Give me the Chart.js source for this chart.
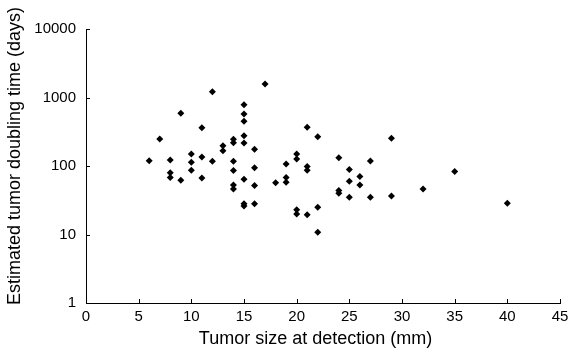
<!DOCTYPE html>
<html>
<head>
<meta charset="utf-8">
<script src="https://cdn.jsdelivr.net/npm/chart.js@4/dist/chart.umd.min.js"></script>
<style>
  body { margin: 0; background: #fff; }
  #wrap { width: 569px; height: 356px; }
</style>
</head>
<body>
<div id="wrap"><canvas id="scatter" width="569" height="356"></canvas></div>
<script>
// tumor size (mm) and doubling time (days)
var sizes = [6, 7, 8, 8, 8, 9, 9, 10, 10, 10, 11, 11, 11, 12, 12, 13, 13,
  14, 14, 14, 14, 14, 14, 15, 15, 15, 15, 15, 15, 15, 15, 16, 16, 16, 16,
  17, 18, 19, 19, 19, 20, 20, 20, 20, 21, 21, 21, 21, 22, 22, 22,
  24, 24, 24, 25, 25, 25, 26, 26, 27, 27, 29, 29, 32, 35, 40];
var doubling = [119, 248, 122, 80, 68, 588, 62, 150, 113, 87, 362, 135, 67, 1216, 117, 198, 167,
  245, 219, 117, 86, 53, 46, 785, 574, 449, 277, 217, 64, 28, 26, 175, 94, 52, 28,
  1574, 57, 107, 68, 58, 150, 127, 23, 20, 367, 98, 87, 19.5, 268, 25, 10.8,
  132, 44, 40, 89, 60, 35, 70, 53, 118, 35, 254, 36.5, 46, 83, 28.5];

var xTicks = [0, 5, 10, 15, 20, 25, 30, 35, 40, 45];
var yTicks = [1, 10, 100, 1000, 10000];

var points = [];
for (var i = 0; i < sizes.length; i++) {
  points.push({ x: sizes[i], y: doubling[i] });
}

// small tick marks pointing into the plot
var innerTicks = {
  id: 'innerTicks',
  afterDraw: function (chart) {
    var ctx = chart.ctx;
    var xs = chart.scales.x, ys = chart.scales.y;
    ctx.save();
    ctx.strokeStyle = '#000';
    ctx.lineWidth = 1;
    ctx.beginPath();
    xTicks.forEach(function (v) {
      var px = Math.round(xs.getPixelForValue(v)) + 0.5;
      ctx.moveTo(px, ys.bottom);
      ctx.lineTo(px, ys.bottom - 4);
    });
    yTicks.forEach(function (v) {
      var py = Math.round(ys.getPixelForValue(v)) + 0.5;
      ctx.moveTo(xs.left, py);
      ctx.lineTo(xs.left + 4, py);
    });
    ctx.stroke();
    ctx.restore();
  }
};

var font = "'Liberation Sans', Arial, sans-serif";

new Chart(document.getElementById('scatter'), {
  type: 'scatter',
  data: {
    datasets: [{
      data: points,
      backgroundColor: '#000',
      borderColor: '#000',
      pointStyle: 'rectRot',
      pointRadius: 3.5,
      borderWidth: 0
    }]
  },
  options: {
    responsive: false,
    animation: false,
    layout: { padding: { top: 29, right: 9, bottom: 0, left: 0 } },
    plugins: {
      legend: { display: false },
      tooltip: { enabled: false }
    },
    scales: {
      x: {
        type: 'linear',
        min: 0,
        max: 45,
        afterBuildTicks: function (s) { s.ticks = xTicks.map(function (v) { return { value: v }; }); },
        afterFit: function (s) { s.height = 53; s.paddingRight = 0; s.paddingLeft = 0; },
        grid: { display: true, drawOnChartArea: false, drawTicks: false },
        border: { display: true, color: '#000', width: 1 },
        ticks: { color: '#000', padding: 5, maxRotation: 0, font: { family: font, size: 15 } },
        title: {
          display: true,
          text: 'Tumor size at detection (mm)   ',
          color: '#000',
          padding: { top: 0, bottom: 6 },
          font: { family: font, size: 18 }
        }
      },
      y: {
        type: 'logarithmic',
        min: 1,
        max: 10000,
        afterBuildTicks: function (s) { s.ticks = yTicks.map(function (v) { return { value: v }; }); },
        afterFit: function (s) { s.width = 86; },
        grid: { display: true, drawOnChartArea: false, drawTicks: false },
        border: { display: true, color: '#000', width: 1 },
        ticks: {
          color: '#000',
          padding: 10,
          font: { family: font, size: 15 },
          callback: function (v) { return String(v); }
        },
        title: {
          display: true,
          text: '    Estimated tumor doubling time (days)',
          color: '#000',
          padding: { top: 4, bottom: 0 },
          font: { family: font, size: 18 }
        }
      }
    }
  },
  plugins: [innerTicks]
});
</script>
</body>
</html>
